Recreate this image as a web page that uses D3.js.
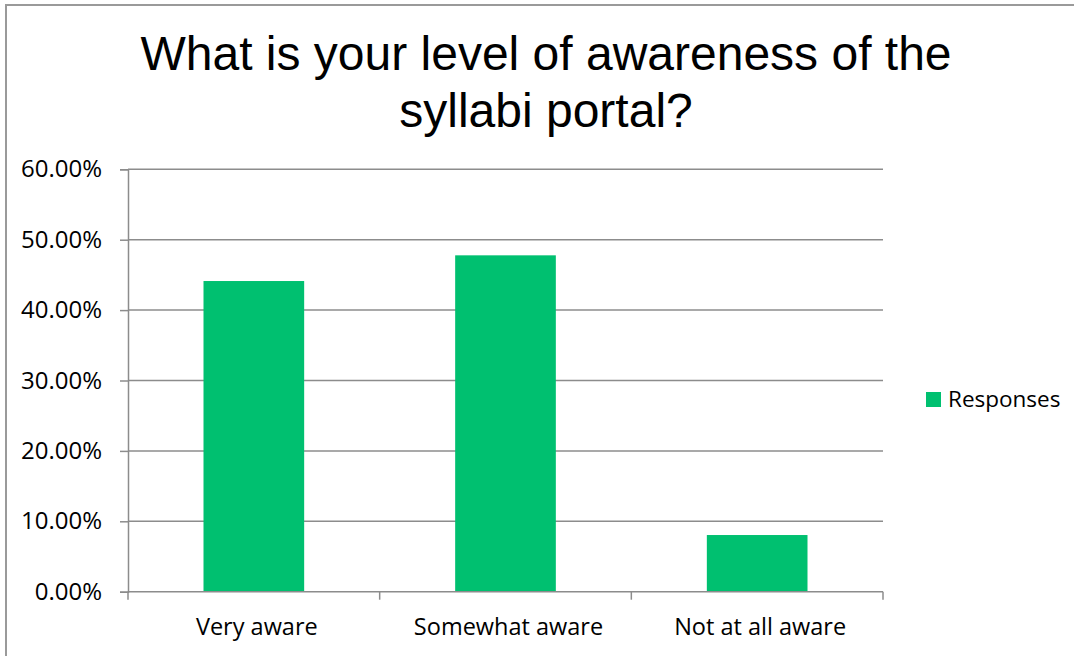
<!DOCTYPE html>
<html>
<head>
<meta charset="utf-8">
<script src="https://cdn.jsdelivr.net/npm/d3@7"></script>
<style>
  html, body { margin: 0; padding: 0; background: #ffffff; }
  svg { display: block; }
</style>
</head>
<body>
<svg id="chart"></svg>
<script>
// Chart data
const categories = ["Very aware", "Somewhat aware", "Not at all aware"];
const responses = [0.4413, 0.4778, 0.0805];
const yTicks = [0, 0.1, 0.2, 0.3, 0.4, 0.5, 0.6];
const seriesName = "Responses";
const titleLines = ["What is your level of awareness of the", "syllabi portal?"];

// SVG dimensions
let width = 1074, height = 656;
let plot = { left: 128, right: 883, top: 169.3, bottom: 591.7 };

let svg = d3.select('#chart')
    .attr('width', width)
    .attr('height', height);

const labelFont = "'Open Sans', 'Noto Sans', sans-serif";

// Outer chart border (left and top visible)
svg.append('path')
    .attr('d', `M6,${height} V5 H${width}`)
    .attr('fill', 'none')
    .attr('stroke', '#9a9a9a')
    .attr('stroke-width', 2);

// Title
svg.append('g')
    .selectAll('text')
    .data(titleLines)
    .enter()
    .append('text')
    .attr('x', 546)
    .attr('y', (d, i) => 70 + i * 57)
    .attr('text-anchor', 'middle')
    .attr('font-family', "'Liberation Sans', Arial, sans-serif")
    .attr('font-size', 48)
    .attr('fill', '#000')
    .text(d => d);

// Scales
let xScale = d3.scaleBand()
    .domain(categories)
    .range([plot.left, plot.right])
    .paddingInner(0.6)
    .paddingOuter(0.3);

let yScale = d3.scaleLinear()
    .domain([0, 0.6])
    .range([plot.bottom, plot.top]);

// Gridlines
svg.append('g')
    .selectAll('line')
    .data(yTicks.slice(1))
    .enter()
    .append('line')
    .attr('x1', plot.left)
    .attr('x2', plot.right)
    .attr('y1', d => yScale(d))
    .attr('y2', d => yScale(d))
    .attr('stroke', '#8c8c8c')
    .attr('stroke-width', 1.5);

// Bars
svg.append('g')
    .selectAll('rect')
    .data(categories)
    .enter()
    .append('rect')
    .attr('x', d => xScale(d))
    .attr('width', xScale.bandwidth())
    .attr('y', (d, i) => yScale(responses[i]))
    .attr('height', (d, i) => plot.bottom - yScale(responses[i]))
    .attr('fill', '#00c070');

// Y axis
let yAxis = d3.axisLeft(yScale)
    .tickValues(yTicks)
    .tickFormat(d => (d * 100).toFixed(2) + '%')
    .tickSize(8)
    .tickPadding(18);

let yG = svg.append('g')
    .attr('transform', `translate(${plot.left}, 0)`)
    .call(yAxis);
yG.select('.domain').attr('stroke', '#8c8c8c').attr('stroke-width', 1.5);
yG.selectAll('.tick line').attr('stroke', '#8c8c8c').attr('stroke-width', 1.5);
yG.selectAll('.tick text')
    .attr('font-family', labelFont)
    .attr('font-size', 24)
    .attr('fill', '#000');

// X axis with ticks at category boundaries
let xG = svg.append('g')
    .attr('transform', `translate(0, ${plot.bottom})`);
xG.append('line')
    .attr('x1', plot.left)
    .attr('x2', plot.right)
    .attr('stroke', '#8c8c8c')
    .attr('stroke-width', 1.5);

let boundaries = d3.range(categories.length + 1).map(i => plot.left + i * (plot.right - plot.left) / categories.length);
xG.selectAll('.xtick')
    .data(boundaries)
    .enter()
    .append('line')
    .attr('class', 'xtick')
    .attr('x1', d => d)
    .attr('x2', d => d)
    .attr('y1', 0)
    .attr('y2', 8)
    .attr('stroke', '#8c8c8c')
    .attr('stroke-width', 1.5);

xG.selectAll('text')
    .data(categories)
    .enter()
    .append('text')
    .attr('x', d => xScale(d) + xScale.bandwidth() / 2 + 3)
    .attr('y', 43)
    .attr('text-anchor', 'middle')
    .attr('font-family', labelFont)
    .attr('font-size', 23.5)
    .attr('fill', '#000')
    .text(d => d);

// Legend
let legend = svg.append('g')
    .attr('transform', 'translate(926, 392)');
legend.append('rect')
    .attr('width', 15)
    .attr('height', 15)
    .attr('fill', '#00c070');
legend.append('text')
    .attr('x', 22)
    .attr('y', 15)
    .attr('font-family', labelFont)
    .attr('font-size', 22.5)
    .attr('fill', '#000')
    .text(seriesName);
</script>
</body>
</html>
